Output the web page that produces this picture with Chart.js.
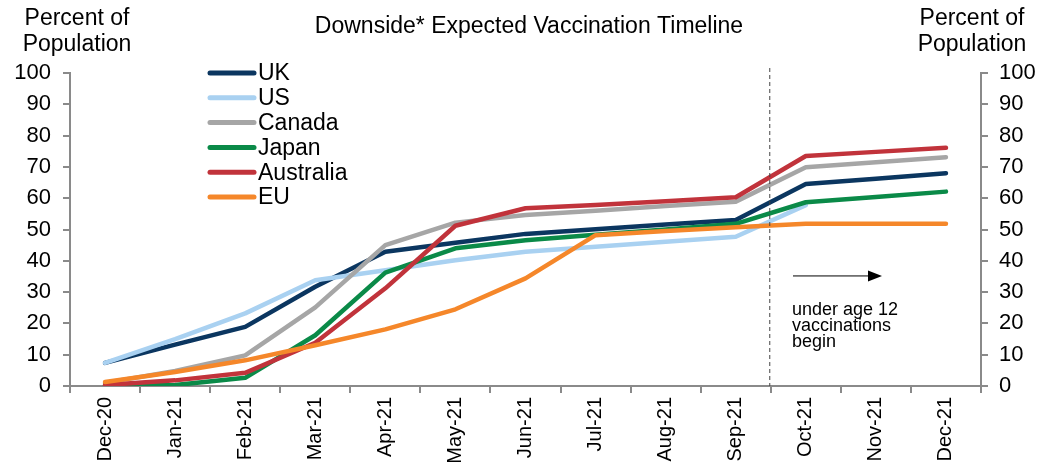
<!DOCTYPE html>
<html>
<head>
<meta charset="utf-8">
<script src="https://cdn.jsdelivr.net/npm/chart.js@4/dist/chart.umd.min.js"></script>
<style>
  html, body { margin: 0; padding: 0; background: #fff; }
  #wrap { width: 1052px; height: 468px; }
</style>
</head>
<body>
<div id="wrap"><canvas id="vaxChart" width="1052" height="468"></canvas></div>
<script>
const months = ['Dec-20', 'Jan-21', 'Feb-21', 'Mar-21', 'Apr-21', 'May-21', 'Jun-21',
  'Jul-21', 'Aug-21', 'Sep-21', 'Oct-21', 'Nov-21', 'Dec-21'];

const ukValues        = [7.4, 13.2, 18.9, 31.7, 42.9, 45.8, 48.6, 50.1, 51.6, 53.0, 64.5, 66.2, 68.0];
const usValues        = [7.4, 15.0, 23.2, 33.8, 37.0, 40.2, 42.9, 44.5, 46.1, 47.7, 57.8, null, null];
const canadaValues    = [1.0, 4.8, 9.8, 25.1, 45.0, 52.2, 54.6, 56.0, 57.5, 58.9, 69.9, 71.5, 73.1];
const japanValues     = [0.2, 0.3, 2.6, 16.2, 36.2, 44.0, 46.6, 48.3, 50.0, 51.8, 58.7, 60.4, 62.1];
const australiaValues = [0.3, 1.8, 4.2, 13.8, 31.2, 51.2, 56.8, 57.8, 59.0, 60.3, 73.5, 74.8, 76.1];
const euValues        = [1.3, 4.5, 8.2, 13.0, 18.1, 24.5, 34.4, 48.2, 49.5, 50.7, 51.8, 51.8, 51.8];

const yTicks = [0, 10, 20, 30, 40, 50, 60, 70, 80, 90, 100];

const FONT = '"Liberation Sans", Arial, sans-serif';
const AXIS_GREY = '#8a8a8a';

// the cutoff line sits between Sep-21 and Oct-21
const cutoffAfter = 'Sep-21';

function series(label, data, color, order) {
  return {
    label, data, order,
    borderColor: color,
    backgroundColor: color,
    borderWidth: 4.5,
    borderCapStyle: 'round',
    borderJoinStyle: 'round',
    pointRadius: 0,
    tension: 0,
    fill: false,
    yAxisID: 'y'
  };
}

const datasets = [
  series('UK', ukValues, '#0b3660', 6),
  series('US', usValues, '#a9d1f1', 5),
  series('Canada', canadaValues, '#a6a6a6', 4),
  series('Japan', japanValues, '#0a8a48', 3),
  series('Australia', australiaValues, '#c1333b', 2),
  series('EU', euValues, '#f5872a', 1)
];

// titles, legend, cutoff line and the note
const extras = {
  id: 'extras',
  afterDraw(chart) {
    const { ctx, chartArea, scales } = chart;
    ctx.save();
    ctx.fillStyle = '#000';
    ctx.textBaseline = 'middle';

    ctx.font = '23px ' + FONT;
    ctx.textAlign = 'center';
    ctx.fillText('Downside* Expected Vaccination Timeline', 529, 27);
    ctx.fillText('Percent of', 77, 19);
    ctx.fillText('Population', 77, 45);
    ctx.fillText('Percent of', 972, 19);
    ctx.fillText('Population', 972, 45);

    // legend
    ctx.textAlign = 'left';
    datasets.forEach((ds, i) => {
      const y = 73 + i * 24.8;
      ctx.strokeStyle = ds.borderColor;
      ctx.lineWidth = 5;
      ctx.lineCap = 'round';
      ctx.beginPath();
      ctx.moveTo(210, y);
      ctx.lineTo(254, y);
      ctx.stroke();
      ctx.fillText(ds.label, 258, y + 1);
    });

    // dashed cutoff
    const idx = months.indexOf(cutoffAfter);
    const xCut = (scales.x.getPixelForValue(idx) + scales.x.getPixelForValue(idx + 1)) / 2 - 1;
    ctx.strokeStyle = '#444';
    ctx.lineWidth = 1;
    ctx.lineCap = 'butt';
    ctx.setLineDash([4, 3]);
    ctx.beginPath();
    ctx.moveTo(xCut, 68);
    ctx.lineTo(xCut, chartArea.bottom);
    ctx.stroke();
    ctx.setLineDash([]);

    // arrow and note
    const ay = scales.y.getPixelForValue(35) - 0.5;
    ctx.strokeStyle = '#000';
    ctx.beginPath();
    ctx.moveTo(793, ay);
    ctx.lineTo(870, ay);
    ctx.stroke();
    ctx.beginPath();
    ctx.moveTo(882, ay);
    ctx.lineTo(868, ay - 5.5);
    ctx.lineTo(868, ay + 5.5);
    ctx.closePath();
    ctx.fill();

    ctx.font = '18px ' + FONT;
    ctx.textBaseline = 'alphabetic';
    ctx.fillText('under age 12', 792, 315);
    ctx.fillText('vaccinations', 792, 331);
    ctx.fillText('begin', 792, 347);
    ctx.restore();
  }
};

const yAxis = (position, width) => ({
  position,
  min: yTicks[0],
  max: yTicks[yTicks.length - 1],
  afterFit: s => { s.width = width; },
  afterBuildTicks: s => { s.ticks = yTicks.map(v => ({ value: v })); },
  border: { color: AXIS_GREY, width: 2 },
  grid: { drawOnChartArea: false, color: AXIS_GREY, lineWidth: 2, tickLength: 7 },
  ticks: { color: '#000', font: { family: FONT, size: 22 }, padding: position === 'left' ? 12 : 11 }
});

new Chart(document.getElementById('vaxChart').getContext('2d'), {
  type: 'line',
  data: { labels: months, datasets },
  options: {
    responsive: false,
    devicePixelRatio: 1,
    animation: false,
    layout: { padding: { top: 73, left: 0, right: 0, bottom: 0 } },
    plugins: {
      legend: { display: false },
      title: { display: false },
      tooltip: { enabled: false }
    },
    scales: {
      x: {
        offset: true,
        afterFit: s => { s.height = 82; },
        border: { color: AXIS_GREY, width: 2 },
        grid: { offset: true, drawOnChartArea: false, color: AXIS_GREY, lineWidth: 2, tickLength: 7 },
        ticks: {
          color: '#000',
          font: { family: FONT, size: 20 },
          minRotation: 90,
          maxRotation: 90,
          autoSkip: false,
          padding: 4
        }
      },
      y: yAxis('left', 70),
      y2: yAxis('right', 71)
    }
  },
  plugins: [extras]
});
</script>
</body>
</html>
